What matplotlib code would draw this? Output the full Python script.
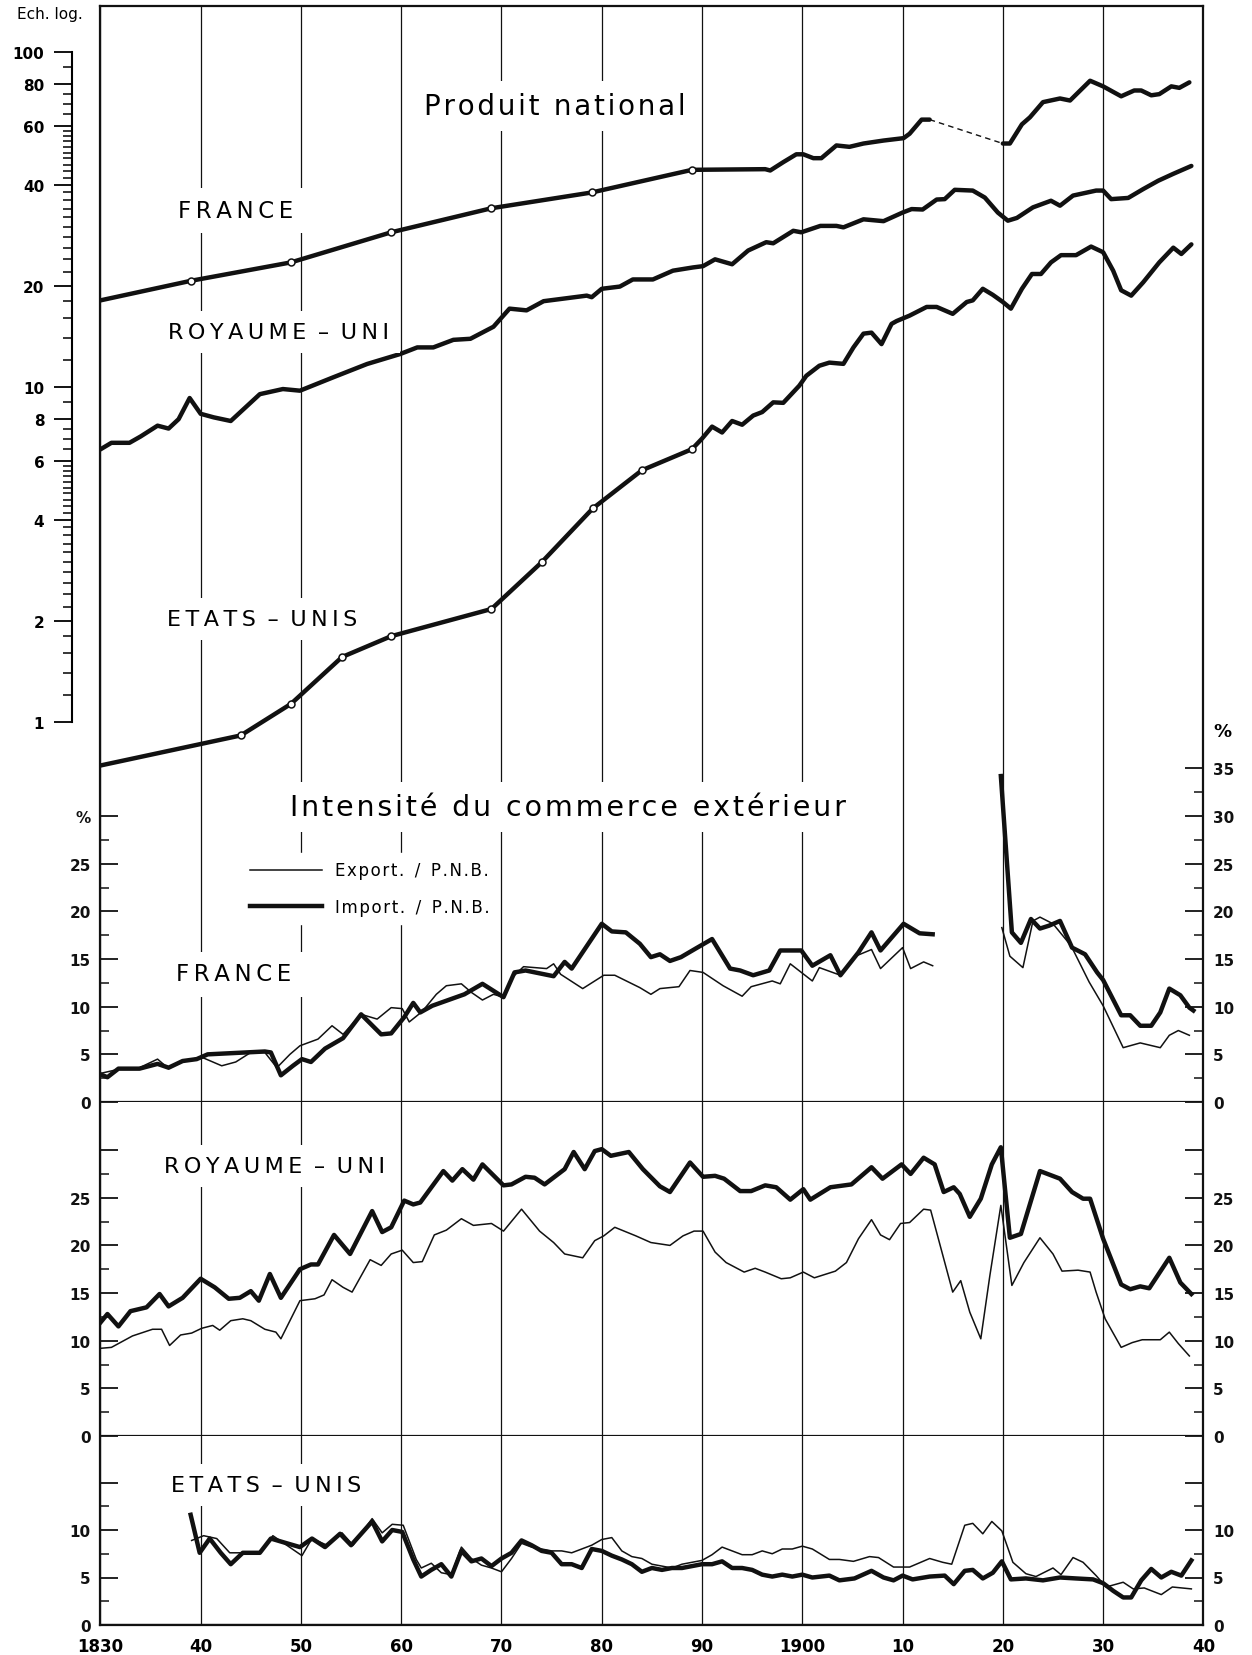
import numpy as np
import matplotlib
matplotlib.use("Agg")
import matplotlib.pyplot as plt
from matplotlib.ticker import FixedLocator, FixedFormatter, NullFormatter

plt.rcParams['font.family'] = ['DejaVu Sans']
nan = np.nan

# ---------------- Produit national (ech. log) ----------------
pn_fr_years = [1830, 1839, 1849, 1859, 1869, 1879, 1889, 1896.3, 1896.8, 1898.1, 1899.4,
               1900.1, 1901.1, 1901.9, 1903.4, 1904.7, 1906.1, 1908.1, 1910.1, 1910.7,
               1911.9, 1912.7]
pn_fr = [18.1, 20.7, 23.5, 28.9, 34.1, 38.0, 44.4, 44.6, 44.2, 46.8, 49.4,
         49.4, 48.1, 48.1, 52.5, 52.0, 53.2, 54.3, 55.2, 56.9, 62.7, 62.7]
pn_fr_gap_years = [1912.7, 1920.0]
pn_fr_gap = [62.7, 53.2]
pn_fr2_years = [1920.0, 1920.7, 1921.9, 1922.7, 1924.0, 1925.7, 1926.7, 1928.7, 1930.0,
                1931.8, 1933.1, 1933.8, 1934.8, 1935.6, 1936.8, 1937.6, 1938.6]
pn_fr2 = [53.2, 53.2, 60.7, 63.7, 70.7, 72.5, 71.5, 81.9, 78.8,
          73.6, 76.6, 76.6, 74.1, 74.7, 78.8, 78.0, 81.0]

pn_uk_years = [1830, 1831.1, 1832.9, 1834.0, 1835.7, 1836.8, 1837.8, 1838.9, 1840.0, 1841.3,
               1843.0, 1845.9, 1848.2, 1849.9, 1853.2, 1856.6, 1859.9, 1861.6, 1863.2,
               1865.2, 1866.9, 1869.2, 1870.8, 1872.5, 1874.2, 1878.5, 1879.0, 1880.0,
               1881.8, 1883.1, 1885.1, 1887.1, 1889.1, 1890.1, 1891.3, 1893.0, 1894.6,
               1896.4, 1897.1, 1899.1, 1899.9, 1901.8, 1903.4, 1904.1, 1906.1, 1908.1,
               1910.0, 1910.9, 1912.0, 1913.4, 1914.2, 1915.2, 1917.0, 1918.2, 1919.5,
               1920.5, 1921.4, 1923.0, 1924.8, 1925.7, 1927.0, 1929.3, 1930.0, 1930.8,
               1932.5, 1934.0, 1935.5, 1937.0, 1938.8]
pn_uk = [6.5, 6.8, 6.8, 7.1, 7.65, 7.5, 8.0, 9.25, 8.3, 8.1,
         7.9, 9.5, 9.84, 9.73, 10.66, 11.69, 12.52, 13.1, 13.1,
         13.8, 13.9, 15.1, 17.1, 16.9, 18.0, 18.7, 18.5, 19.6,
         19.9, 20.9, 20.9, 22.2, 22.7, 22.9, 24.0, 23.2, 25.5,
         27.0, 26.8, 29.2, 28.9, 30.2, 30.2, 29.9, 31.6, 31.2,
         33.1, 33.9, 33.8, 36.2, 36.3, 38.7, 38.5, 36.7, 33.1,
         31.3, 31.9, 34.3, 35.9, 34.7, 37.2, 38.5, 38.5, 36.3,
         36.6, 38.9, 41.2, 43.2, 45.6]

pn_us_years = [1830, 1844, 1849, 1854.1, 1859, 1869, 1874, 1879.1, 1884, 1889,
               1890, 1891, 1892, 1893, 1894, 1895.1, 1896, 1897.1, 1898.1, 1899.7,
               1900.4, 1901.7, 1902.7, 1904.1, 1905.1, 1906.1, 1906.9, 1907.9, 1908.9,
               1909.4, 1910.7, 1912.4, 1913.4, 1915.0, 1916.4, 1917.0, 1918.0, 1919.0,
               1920.0, 1920.8, 1921.9, 1922.9, 1923.8, 1924.8, 1925.8, 1927.3, 1928.8,
               1930.0, 1931.0, 1931.8, 1932.8, 1934.0, 1935.6, 1937.0, 1937.8, 1938.8]
pn_us = [0.74, 0.91, 1.13, 1.56, 1.80, 2.17, 2.99, 4.33, 5.63, 6.51,
         7.0, 7.6, 7.3, 7.9, 7.7, 8.2, 8.4, 8.98, 8.95, 10.07,
         10.78, 11.55, 11.8, 11.7, 13.1, 14.4, 14.5, 13.4, 15.4,
         15.7, 16.3, 17.3, 17.3, 16.5, 17.9, 18.1, 19.6, 18.8,
         17.9, 17.1, 19.6, 21.7, 21.7, 23.5, 24.7, 24.7, 26.2,
         25.2, 22.2, 19.4, 18.7, 20.5, 23.5, 26.0, 24.9, 26.6]

log_ticks = [1, 2, 4, 6, 8, 10, 20, 40, 60, 80, 100]
log_minor = ([1.2, 1.4, 1.6, 1.8] + [round(2.2 + 0.2 * i, 1) for i in range(9)]
             + [round(4.2 + 0.2 * i, 1) for i in range(9)] + [6.5, 7, 7.5, 9]
             + [12, 14, 16, 18] + [22 + 2 * i for i in range(9)]
             + [42 + 2 * i for i in range(9)] + [65, 70, 75, 90])

# ---------------- Intensite du commerce exterieur (%) ----------------
fr_imp_years = [1830.0, 1830.7, 1831.8, 1833.9, 1835.7, 1836.8, 1838.2, 1839.6, 1840.7, 1846.4,
                1847.0, 1848.0, 1849.2, 1850.1, 1851.0, 1852.4, 1854.2, 1856.0, 1858.0, 1859.0,
                1860.3, 1861.2, 1861.9, 1863.1, 1866.3, 1868.1, 1870.2, 1871.3, 1872.4, 1875.2,
                1876.3, 1877.0, 1880.0, 1881.0, 1882.4, 1883.8, 1884.9, 1885.8, 1886.8, 1887.9,
                1889.2, 1891.0, 1892.8, 1893.8, 1895.1, 1896.7, 1897.8, 1899.9, 1901.0, 1902.8,
                1903.8, 1905.6, 1906.9, 1907.8, 1910.1, 1911.7, 1913.0, 1916.0,
                1919.8, 1920.9, 1921.8, 1922.8, 1923.7, 1924.6, 1925.7, 1926.9, 1928.2, 1929.4,
                1930.0, 1931.8, 1932.7, 1933.7, 1934.8, 1935.7, 1936.6, 1937.7, 1938.6, 1939.0]
fr_imp = [2.9, 2.6, 3.5, 3.5, 4.0, 3.6, 4.3, 4.5, 5.0, 5.3,
          5.2, 2.8, 3.8, 4.5, 4.2, 5.6, 6.7, 9.2, 7.1, 7.2,
          8.9, 10.4, 9.4, 10.1, 11.3, 12.4, 11.0, 13.6, 13.8, 13.2,
          14.7, 14.0, 18.7, 17.9, 17.8, 16.6, 15.2, 15.5, 14.8, 15.2,
          16.0, 17.1, 14.0, 13.8, 13.3, 13.8, 15.9, 15.9, 14.3, 15.4,
          13.3, 15.7, 17.8, 15.9, 18.7, 17.7, 17.6, nan,
          34.2, 17.8, 16.7, 19.2, 18.2, 18.5, 19.0, 16.2, 15.5, 13.6,
          12.8, 9.1, 9.1, 8.0, 8.0, 9.4, 11.9, 11.2, 9.9, 9.6]

fr_exp_years = [1830.0, 1832.1, 1833.9, 1835.7, 1836.8, 1838.2, 1840.1, 1842.1, 1843.5, 1845.0,
                1846.4, 1847.6, 1848.9, 1849.9, 1851.7, 1853.1, 1854.2, 1856.0, 1857.6, 1859.0,
                1860.1, 1860.8, 1862.1, 1863.5, 1864.5, 1866.0, 1867.0, 1868.1, 1869.2, 1870.2,
                1871.0, 1872.2, 1874.5, 1875.2, 1875.9, 1878.1, 1880.2, 1881.3, 1883.8, 1884.9,
                1885.8, 1887.7, 1888.8, 1890.1, 1892.1, 1894.0, 1894.9, 1897.0, 1897.8, 1898.8,
                1901.0, 1901.7, 1903.8, 1905.3, 1906.9, 1907.8, 1910.0, 1910.8, 1912.1, 1913.0,
                1916.0,
                1919.9, 1920.7, 1922.0, 1923.0, 1923.7, 1925.0, 1926.8, 1928.6, 1930.0, 1932.0,
                1933.7, 1935.7, 1936.6, 1937.5, 1938.6]
fr_exp = [3.0, 3.5, 3.6, 4.5, 3.5, 4.3, 4.7, 3.8, 4.2, 5.2,
          5.2, 3.6, 5.0, 5.9, 6.6, 8.0, 7.1, 9.2, 8.7, 9.9,
          9.8, 8.4, 9.5, 11.3, 12.2, 12.4, 11.5, 10.7, 11.3, 11.0,
          13.0, 14.2, 14.0, 14.5, 13.4, 11.9, 13.3, 13.3, 12.0, 11.3,
          11.9, 12.1, 13.8, 13.6, 12.2, 11.1, 12.1, 12.7, 12.4, 14.5,
          12.7, 14.1, 13.3, 15.3, 16.0, 14.0, 16.2, 14.0, 14.7, 14.3,
          nan,
          18.3, 15.3, 14.1, 19.0, 19.4, 18.7, 16.4, 12.6, 10.1, 5.7,
          6.2, 5.7, 7.0, 7.5, 7.0]

uk_imp_years = [1830.0, 1830.7, 1831.8, 1833.0, 1834.6, 1835.9, 1836.8, 1838.2, 1840.0, 1841.4,
                1842.8, 1843.9, 1845.0, 1845.8, 1846.9, 1848.0, 1849.9, 1851.0, 1851.7, 1853.3,
                1854.9, 1857.1, 1858.1, 1859.0, 1860.3, 1861.2, 1861.9, 1864.2, 1865.1, 1866.1,
                1867.2, 1868.1, 1870.2, 1871.0, 1872.4, 1873.3, 1874.3, 1876.3, 1877.2, 1878.3,
                1879.3, 1880.0, 1880.9, 1882.7, 1884.1, 1885.8, 1886.8, 1888.8, 1890.1, 1891.3,
                1892.2, 1893.8, 1894.9, 1896.3, 1897.4, 1898.8, 1900.1, 1900.8, 1902.8, 1904.9,
                1906.9, 1908.0, 1909.9, 1910.8, 1912.1, 1913.2, 1914.1, 1915.1, 1915.7, 1916.7,
                1917.8, 1918.9, 1919.8, 1920.7, 1921.8, 1923.7, 1925.7, 1926.9, 1928.0, 1928.7,
                1930.0, 1931.8, 1932.7, 1933.7, 1934.6, 1936.6, 1937.7, 1938.8]
uk_imp = [11.9, 12.8, 11.5, 13.1, 13.5, 14.9, 13.6, 14.5, 16.5, 15.6,
          14.4, 14.5, 15.2, 14.2, 17.0, 14.5, 17.5, 18.0, 18.0, 21.1,
          19.1, 23.6, 21.4, 21.9, 24.7, 24.3, 24.5, 27.8, 26.8, 28.0,
          26.9, 28.5, 26.3, 26.4, 27.2, 27.1, 26.4, 28.0, 29.8, 28.0,
          29.9, 30.1, 29.4, 29.8, 28.0, 26.2, 25.6, 28.7, 27.2, 27.3,
          27.0, 25.7, 25.7, 26.3, 26.1, 24.8, 25.9, 24.8, 26.1, 26.4,
          28.2, 27.0, 28.5, 27.5, 29.2, 28.5, 25.6, 26.1, 25.4, 23.0,
          24.9, 28.5, 30.3, 20.8, 21.2, 27.8, 27.0, 25.6, 24.9, 24.9,
          20.7, 15.9, 15.4, 15.7, 15.5, 18.7, 16.1, 14.9]

uk_exp_years = [1830.0, 1831.1, 1833.2, 1835.2, 1836.1, 1836.9, 1838.0, 1839.1, 1840.1, 1841.2,
                1841.9, 1843.0, 1844.2, 1845.0, 1846.4, 1847.5, 1848.0, 1849.9, 1851.4, 1852.3,
                1853.1, 1854.2, 1855.1, 1856.9, 1858.0, 1859.0, 1860.1, 1861.2, 1862.1, 1863.3,
                1864.5, 1866.0, 1867.2, 1869.0, 1870.2, 1872.0, 1873.8, 1875.2, 1876.3, 1878.1,
                1879.3, 1880.2, 1881.3, 1883.4, 1884.9, 1886.8, 1888.1, 1889.2, 1890.1, 1891.3,
                1892.4, 1894.2, 1895.3, 1896.3, 1897.9, 1898.8, 1900.1, 1901.2, 1903.3, 1904.4,
                1905.6, 1906.9, 1907.8, 1908.7, 1909.8, 1910.7, 1912.1, 1912.8, 1913.9, 1915.0,
                1915.8, 1916.7, 1917.8, 1918.7, 1919.8, 1920.9, 1922.1, 1923.7, 1925.0, 1925.9,
                1927.5, 1928.7, 1929.3, 1930.2, 1931.8, 1932.9, 1933.9, 1935.7, 1936.6, 1937.5,
                1938.6]
uk_exp = [9.2, 9.3, 10.5, 11.2, 11.2, 9.5, 10.6, 10.8, 11.3, 11.6,
          11.1, 12.1, 12.3, 12.1, 11.2, 10.9, 10.2, 14.2, 14.4, 14.8,
          16.4, 15.6, 15.1, 18.5, 17.9, 19.1, 19.5, 18.2, 18.3, 21.1,
          21.6, 22.8, 22.1, 22.3, 21.5, 23.8, 21.5, 20.3, 19.1, 18.7,
          20.5, 21.0, 21.9, 21.0, 20.3, 20.0, 21.0, 21.5, 21.5, 19.3,
          18.2, 17.2, 17.6, 17.2, 16.5, 16.6, 17.2, 16.6, 17.3, 18.2,
          20.7, 22.7, 21.1, 20.6, 22.3, 22.4, 23.8, 23.7, 19.4, 15.1,
          16.3, 13.0, 10.2, 16.8, 24.2, 15.8, 18.2, 20.8, 19.1, 17.3,
          17.4, 17.2, 15.1, 12.3, 9.3, 9.8, 10.1, 10.1, 10.9, 9.7,
          8.4]

us_imp_years = [1839.0, 1839.9, 1840.9, 1842.0, 1843.0, 1844.2, 1845.9, 1847.0, 1848.6, 1849.9,
                1851.1, 1852.4, 1853.9, 1855.0, 1857.1, 1858.1, 1859.1, 1860.1, 1861.2, 1862,
                1863, 1864, 1865, 1866, 1867, 1868, 1869, 1870, 1871, 1872,
                1873, 1874, 1875, 1876, 1877, 1878, 1879, 1880, 1881, 1882,
                1883, 1884, 1885, 1886, 1887, 1888, 1889, 1890, 1891, 1892,
                1893, 1894, 1895, 1896, 1897, 1898, 1899, 1900, 1901, 1902.7,
                1903.7, 1905.2, 1906.9, 1908.1, 1909.1, 1910.0, 1911.0, 1912.7, 1914.2, 1915.1,
                1916.2, 1917.0, 1918.0, 1919.0, 1919.9, 1920.8, 1922.3, 1924.0, 1925.7, 1927.3,
                1929.0, 1930.0, 1931.0, 1932.0, 1932.8, 1933.8, 1934.8, 1935.8, 1936.8, 1937.8,
                1938.8]
us_imp = [11.6, 7.6, 9.1, 7.6, 6.4, 7.6, 7.6, 9.1, 8.6, 8.2,
          9.1, 8.2, 9.6, 8.4, 10.9, 8.8, 10.0, 9.8, 6.9, 5.1,
          5.8, 6.4, 5.1, 7.8, 6.7, 7.0, 6.2, 7.0, 7.6, 8.9,
          8.4, 7.8, 7.6, 6.4, 6.4, 6.0, 8.0, 7.8, 7.3, 6.9,
          6.4, 5.6, 6.0, 5.8, 6.0, 6.0, 6.2, 6.4, 6.4, 6.7,
          6.0, 6.0, 5.8, 5.3, 5.1, 5.3, 5.1, 5.3, 5.0, 5.2,
          4.7, 4.9, 5.7, 5.0, 4.7, 5.2, 4.8, 5.1, 5.2, 4.3,
          5.7, 5.8, 4.9, 5.5, 6.7, 4.8, 4.9, 4.7, 5.0, 4.9,
          4.8, 4.4, 3.6, 2.9, 2.9, 4.7, 5.9, 5.0, 5.6, 5.2,
          6.8]

us_exp_years = [1839.1, 1840.3, 1841.6, 1842.9, 1844.6, 1845.9, 1847.2, 1850.1, 1851.1, 1852.6,
                1854.1, 1855.2, 1857.1, 1858.1, 1859.1, 1860.2, 1861.5, 1862, 1863, 1864,
                1865, 1866, 1867, 1868, 1869, 1870, 1871, 1872, 1873, 1874,
                1875, 1876, 1877, 1878, 1879, 1880, 1881, 1882, 1883, 1884,
                1885, 1886, 1887, 1888, 1889, 1890, 1891, 1892, 1893, 1894,
                1895, 1896, 1897, 1898, 1899, 1900, 1901, 1902.7, 1903.7, 1905.1,
                1906.7, 1907.6, 1909.1, 1910.7, 1912.7, 1914.0, 1914.9, 1916.2, 1917.0, 1918.0,
                1918.9, 1919.9, 1921.0, 1922.3, 1923.3, 1925.0, 1925.8, 1927.0, 1928.0, 1929.3,
                1930.3, 1932.0, 1933.0, 1934.1, 1935.8, 1936.9, 1938.8]
us_exp = [8.9, 9.4, 9.1, 7.6, 7.6, 7.6, 9.4, 7.3, 9.1, 8.4,
          9.7, 8.4, 11.2, 9.7, 10.6, 10.5, 6.9, 6.0, 6.5, 5.5,
          5.3, 8.2, 7.0, 6.3, 6.0, 5.6, 7.0, 8.6, 8.2, 8.0,
          7.8, 7.8, 7.6, 8.0, 8.4, 9.0, 9.2, 7.8, 7.2, 7.0,
          6.4, 6.2, 6.0, 6.4, 6.6, 6.8, 7.4, 8.2, 7.8, 7.4,
          7.4, 7.8, 7.5, 8.0, 8.0, 8.3, 8.0, 6.9, 6.9, 6.7,
          7.2, 7.1, 6.1, 6.1, 7.0, 6.6, 6.4, 10.5, 10.7, 9.6,
          10.9, 9.9, 6.6, 5.4, 5.1, 6.0, 5.3, 7.1, 6.6, 5.2,
          4.0, 4.5, 3.8, 3.9, 3.2, 4.0, 3.8]

year_ticks = list(range(1830, 1941, 10))
year_labels = ['1830', '40', '50', '60', '70', '80', '90', '1900', '10', '20', '30', '40']

# ---------------- layout (pixels of the 1252 x 1656 picture) ----------------
W, H = 1252, 1656
XL, XR = 100.4, 1203.4
Y_TOP, Y_FR0, Y_UK0, Y_US0 = 7, 1103, 1437, 1626
PX_PCT = 9.53      # px per percent point
Y10, DEC = 387.7, 335.0   # log scale: y of 10, px per decade
PT = 0.72          # points per pixel at dpi 100

fig = plt.figure(figsize=(W / 100, H / 100), dpi=100)


def box(y0, y1):
    return [XL / W, 1 - y1 / H, (XR - XL) / W, (y1 - y0) / H]


def ptext(x, y, s, size, white=True, **kw):
    bb = dict(facecolor='white', edgecolor='none', pad=8) if white else None
    fig.text(x / W, 1 - y / H, s, fontsize=size, ha='center', va='center',
             bbox=bb, **kw)


def spaced(s, sp='\u2009'):
    return sp.join(s)


ink = '#111111'
thick, thin = 3.2, 1.1

# frame + vertical grid
ax = fig.add_axes(box(Y_TOP, Y_US0))
ax.set_xlim(1830, 1940)
ax.set_ylim(0, 1)
ax.set_xticks(year_ticks)
ax.set_xticklabels(year_labels, fontsize=12, fontweight='bold')
ax.set_yticks([])
ax.tick_params(axis='x', length=0, pad=9)
ax.grid(axis='x', color=ink, lw=0.9)
for s in ax.spines.values():
    s.set_linewidth(1.6)
    s.set_color(ink)


def overlay(y0, y1):
    a = fig.add_axes(box(y0, y1))
    a.set_xlim(1830, 1940)
    a.patch.set_visible(False)
    for s in a.spines.values():
        s.set_visible(False)
    a.tick_params(axis='x', bottom=False, labelbottom=False)
    return a


def bold_labels(a):
    for t in a.get_yticklabels():
        t.set_fontweight('bold')


# ---- log panel
axl = overlay(Y_TOP, Y_FR0)
axl.set_yscale('log')
axl.set_ylim(10 ** (1 - (Y_FR0 - Y10) / DEC), 10 ** (1 + (Y10 - Y_TOP) / DEC))
axl.spines['left'].set_visible(True)
axl.spines['left'].set_position(('outward', (XL - 72) * PT))
axl.spines['left'].set_bounds(1, 100)
axl.spines['left'].set_linewidth(1.5)
axl.yaxis.set_major_locator(FixedLocator(log_ticks))
axl.yaxis.set_major_formatter(FixedFormatter([str(v) for v in log_ticks]))
axl.yaxis.set_minor_locator(FixedLocator(log_minor))
axl.yaxis.set_minor_formatter(NullFormatter())
axl.tick_params(axis='y', which='major', direction='out', length=18 * PT, width=1.3,
                labelsize=11, pad=7)
axl.tick_params(axis='y', which='minor', direction='out', length=9 * PT, width=1.1)
bold_labels(axl)

axl.plot(pn_fr_years, pn_fr, color=ink, lw=thick, solid_capstyle='round',
         marker='o', markevery=[1, 2, 3, 4, 5, 6], ms=5, mfc='white', mec=ink, mew=1.1)
axl.plot(pn_fr_gap_years, pn_fr_gap, color=ink, lw=1.0, ls=(0, (4, 3)))
axl.plot(pn_fr2_years, pn_fr2, color=ink, lw=thick, solid_capstyle='round')
axl.plot(pn_uk_years, pn_uk, color=ink, lw=thick, solid_capstyle='round')
axl.plot(pn_us_years, pn_us, color=ink, lw=thick, solid_capstyle='round',
         marker='o', markevery=list(range(1, 10)), ms=5, mfc='white', mec=ink, mew=1.1)


def pct_axes(y0, y1, px_unit, left_major, left_labels, right_major, right_labels):
    a = overlay(y0, y1)
    a.set_ylim(0, (y1 - y0) / px_unit)
    r = a.twinx()
    r.set_ylim(a.get_ylim())
    r.patch.set_visible(False)
    for s in r.spines.values():
        s.set_visible(False)
    for axx, major, labels in ((a, left_major, left_labels),
                               (r, right_major, right_labels)):
        axx.yaxis.set_major_locator(FixedLocator(major))
        axx.yaxis.set_major_formatter(FixedFormatter(labels))
        axx.yaxis.set_minor_locator(FixedLocator([m + 2.5 for m in major[:-1]]))
        axx.tick_params(axis='y', which='major', direction='in', length=18 * PT,
                        width=1.3, labelsize=11, pad=7, colors=ink)
        axx.tick_params(axis='y', which='minor', direction='in', length=9 * PT,
                        width=1.1, colors=ink)
        bold_labels(axx)
    a.axhline(0, color=ink, lw=1.6)
    return a


# ---- France
axf = pct_axes(Y_TOP, Y_FR0, PX_PCT, list(range(0, 31, 5)),
               ['0', '5', '10', '15', '20', '25', '%'],
               list(range(0, 36, 5)), [str(v) for v in range(0, 36, 5)])
lexp, = axf.plot(fr_exp_years, fr_exp, color=ink, lw=thin)
limp, = axf.plot(fr_imp_years, fr_imp, color=ink, lw=thick)
leg = axf.legend([lexp, limp],
                 [spaced('Export.', '\u200a') + '  /  ' + spaced('P.N.B.', '\u200a'),
                  spaced('Import.', '\u200a') + '  /  ' + spaced('P.N.B.', '\u200a')],
                 loc='upper left', bbox_to_anchor=(242 / W, 1 - 854 / H),
                 bbox_transform=fig.transFigure, fontsize=12, frameon=True,
                 facecolor='white', edgecolor='white', framealpha=1, fancybox=False,
                 handlelength=4.3, handletextpad=0.8, labelspacing=1.1,
                 borderpad=0.5, borderaxespad=0)

# ---- Royaume-Uni
axu = pct_axes(Y_FR0, Y_UK0, PX_PCT, list(range(0, 31, 5)),
               ['0', '5', '10', '15', '20', '25', ''],
               list(range(0, 31, 5)), ['0', '5', '10', '15', '20', '25', ''])
axu.plot(uk_exp_years, uk_exp, color=ink, lw=thin)
axu.plot(uk_imp_years, uk_imp, color=ink, lw=thick)

# ---- Etats-Unis
axs = pct_axes(Y_UK0, Y_US0, 9.5, [0, 5, 10, 15], ['0', '5', '10', ''],
               [0, 5, 10, 15], ['0', '5', '10', ''])
axs.plot(us_exp_years, us_exp, color=ink, lw=thin)
axs.plot(us_imp_years, us_imp, color=ink, lw=thick)

# ---- texts
HAIR = '\u200a'
DASH = ' \u2009\u2013\u2009 '
UK = spaced('ROYAUME') + DASH + spaced('UNI')
US = spaced('ETATS') + DASH + spaced('UNIS')
ptext(50, 15, 'Ech. log.', 11, white=False)
ptext(555, 107, spaced('Produit national', HAIR), 20)
ptext(236, 211, spaced('FRANCE'), 16.5)
ptext(278, 333, UK, 16)
ptext(262, 620, US, 16)
ptext(568, 808, spaced('Intensité du commerce extérieur', HAIR), 20.5)
ptext(234, 975, spaced('FRANCE'), 16.5)
ptext(275, 1167, UK, 16)
ptext(266, 1486, US, 16)
ptext(1222, 732, '%', 13, white=False, fontweight='bold')

fig.savefig('out.png', dpi=100, facecolor='white')
